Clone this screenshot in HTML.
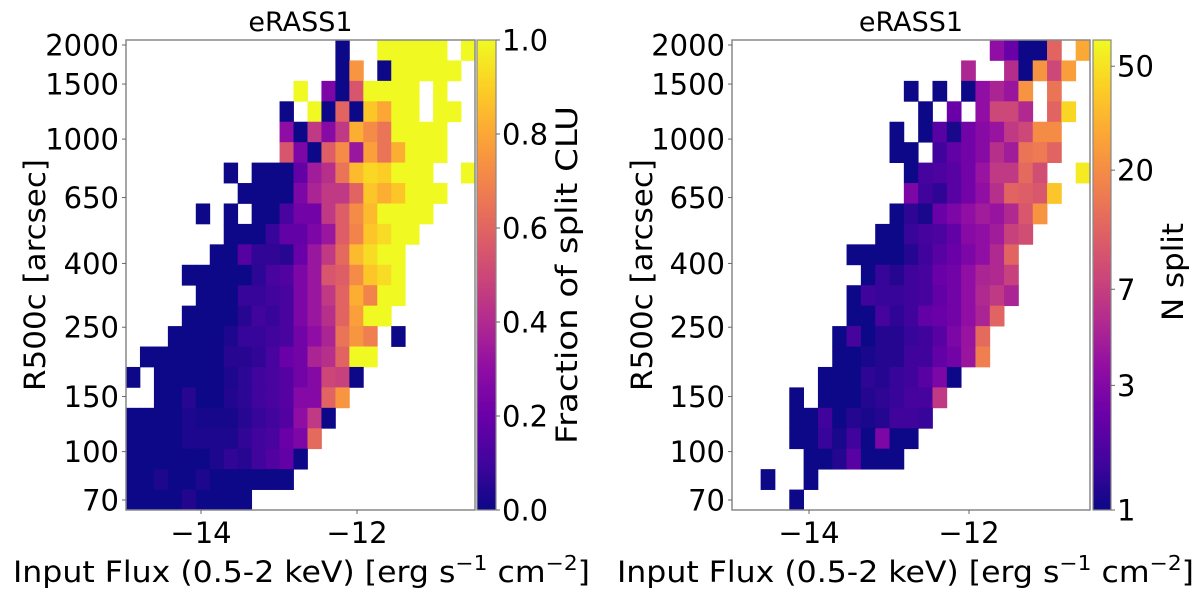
<!DOCTYPE html>
<html><head><meta charset="utf-8"><style>
html,body{margin:0;padding:0;background:#fff;}
svg{display:block;font-family:"DejaVu Sans","Liberation Sans",sans-serif;}
</style></head><body>
<svg id="fig" width="1200" height="594" viewBox="0 0 1200 594" xmlns="http://www.w3.org/2000/svg"></svg>
<script>
const n = null;
// Left panel: fraction of split CLU, rows top->bottom, [startCol, values]
const leftRows = [
[15,[0,n,n,1,1,1,1,1,n,1]],
[15,[0,.75,n,0,1,1,1,1,1]],
[12,[1,n,.25,0,.55,1,1,1,1,n,1]],
[11,[0,n,1,0,.6,0,.88,.8,1,1,n,1,1]],
[11,[.3,0,.45,.28,.45,.82,.72,.65,1,1,1,1]],
[11,[.55,.25,0,.58,.72,.33,.78,.65,.82,1,1,1]],
[7,[0,n,0,0,0,.18,.35,.42,.65,.85,.92,.9,1,1,1,n,n,1]],
[8,[0,0,0,0,.25,.38,.45,.45,.6,.88,.82,.88,1,1,1]],
[5,[0,n,0,n,0,0,.12,.22,.22,.45,.58,.72,.85,1,1,1,1]],
[7,[0,0,0,.08,.18,.18,.25,.33,.58,.7,.88,.93,1,1]],
[6,[0,0,.15,.07,.07,.05,.2,.33,.45,.62,.85,.93,1,1]],
[4,[0,0,0,0,0,.06,.12,.14,.25,.33,.55,.58,.72,.88,.93,1]],
[5,[0,0,0,.08,.08,.1,.12,.25,.33,.45,.6,.82,.7,1,1]],
[4,[0,0,0,0,.05,.1,.08,.12,.25,.33,.42,.6,.78,1,1]],
[3,[0,0,0,0,.03,.08,.08,.1,.12,.22,.3,.38,.65,.75,.68,n,0]],
[1,[0,0,0,0,0,0,.05,.05,.07,.12,.2,.22,.38,.42,.6,1,1]],
[0,[0,n,0,0,0,0,0,.03,.06,.1,.12,.15,.22,.27,.5,.48,0]],
[2,[0,0,.05,0,0,.04,.06,.1,.12,.15,.27,.27,.6,.75]],
[0,[0,0,0,0,.03,.02,.02,.02,.05,.08,.1,.14,.3,.45,0]],
[0,[0,0,0,0,.03,.03,.03,.03,.07,.1,.12,.2,.25,.62]],
[0,[0,0,0,0,0,0,.03,.07,.05,.1,.14,.18,0]],
[0,[0,0,.03,0,0,.03,0,0,0,0,0,0]],
[0,[0,0,0,0,.04,0,0,0,0]]
];
// Right panel: N split counts
const rightRows = [
[18,[3.5,2.3,1,1,12,n,28]],
[16,[5,n,n,5.5,1,22,8,25]],
[12,[1,n,1,n,1,3.5,4.8,3.9,22,n,15]],
[13,[1,n,2.3,n,3.5,8,8,5.2,n,12,45]],
[11,[1,n,1,1.9,1.1,2.5,3.2,3.8,6.5,8,20,20]],
[11,[1,1,n,1.5,2.1,2.5,3.2,5.7,4.3,15,16,12]],
[12,[1,1.6,1.7,1.9,2.5,3.8,6.5,6.5,13,8.6,n,n,55]],
[12,[2.8,1.5,1.3,1.9,2.5,3.5,5.7,12,11,10,38]],
[11,[1,1.3,1.1,2.3,2.8,3.5,4.3,3.8,5.2,10,22]],
[10,[1,1,1.4,1.6,1.7,2.1,3.2,3.5,4.3,7.3,8.6]],
[8,[1,1,1,1,1.2,1.5,1.9,2.3,2.8,3.5,5.2,12]],
[9,[1,1.4,1.2,1.5,1.6,2.3,2.5,3.5,4.8,5.2,7.3]],
[8,[1,1.5,1.4,1.4,1.5,1.6,2.1,2.5,3.5,5.2,6.5,4.8]],
[8,[1,1,1.6,1.3,1.5,2.1,2.3,2.5,3.5,4.8,12]],
[7,[1,1.6,1,1.2,1.2,1.4,1.5,1.9,2.8,3.8,13]],
[7,[1,1,1.1,1.2,1.2,1.5,1.5,2.1,2.5,3.9,17]],
[6,[1,1,1,1.3,1.2,1.4,1.5,1.9,2.8,1]],
[4,[1,n,1,1,1,1.2,1.3,1.4,1.6,1.6,6.5]],
[4,[1,1,1.5,1,1.2,1.1,1.2,1.5,1.5,1.4]],
[4,[1,1,1.4,1.1,1.5,1,2.8,1,1]],
[5,[1,1,1.2,1.9,1,1,1]],
[2,[1,n,n,1]],
[4,[1]]
];
const yTicks = [70,100,150,250,400,650,1000,1500,2000];
const xTicks = [-14,-12];
const leftCbTicks = [0,0.2,0.4,0.6,0.8,1.0];
const rightCbTicks = [1,3,7,20,50];
const rightVmax = 63;

const NS="http://www.w3.org/2000/svg";
const svg=document.getElementById('fig');
function el(tag,attrs,parent){const e=document.createElementNS(NS,tag);for(const k in attrs)e.setAttribute(k,attrs[k]);(parent||svg).appendChild(e);return e;}
const stops=['#0d0887','#41049d','#6a00a8','#8f0da4','#b12a90','#cc4778','#e16462','#f2844b','#fca636','#fcce25','#f0f921'];
function hex(h){return [1,3,5].map(i=>parseInt(h.substr(i,2),16));}
function plasma(t){t=Math.max(0,Math.min(1,t));const f=t*10,i=Math.min(9,Math.floor(f)),u=f-i;const a=hex(stops[i]),b=hex(stops[i+1]);return 'rgb('+a.map((v,k)=>Math.round(v+(b[k]-v)*u)).join(',')+')';}
const TOP=40,BOT=510,NR=23,NC=25;
const rowH=(BOT-TOP)/NR;
function yR(v){return 500-(Math.log10(v)-Math.log10(70))*(455/(Math.log10(2000)-Math.log10(70)));}

function panel(cfg){
  const g=el('g',{});
  
  
  const cw=(cfg.x1-cfg.x0)/NC;
  cfg.rows.forEach((r,ri)=>{
    r[1].forEach((v,j)=>{
      if(v===null)return;
      const c=r[0]+j;
      const rc=el('rect',{x:(cfg.x0+c*cw).toFixed(2),y:(TOP+ri*rowH).toFixed(2),width:(cw+0.4).toFixed(2),height:(rowH+0.4).toFixed(2),fill:plasma(cfg.norm(v))},g);
      
      
    });
  });
  const fr=el('rect',{x:cfg.x0,y:TOP,width:cfg.x1-cfg.x0,height:BOT-TOP,fill:'none',stroke:'#888','stroke-width':1.5},g);
  
  
  yTicks.forEach(v=>{
    const y=yR(v);
    el('line',{x1:cfg.x0-4,x2:cfg.x0,y1:y,y2:y,stroke:'#666','stroke-width':1},g);
    const t=el('text',{x:cfg.x0-7,y:y+10.5,'font-size':29,'text-anchor':'end',fill:'#000'},g);
    t.textContent=v;
    
    
  });
  xTicks.forEach(v=>{
    const x=cfg.xA+(v-(-14))*cfg.xS;
    el('line',{x1:x,x2:x,y1:BOT,y2:BOT+4,stroke:'#666','stroke-width':1},g);
    const t=el('text',{x:x,y:543,'font-size':29,'text-anchor':'middle',fill:'#000'},g);
    t.textContent='\u2212'+Math.abs(v);
    
    
  });
  const ti=el('text',{x:(cfg.x0+cfg.x1)/2,y:31,'font-size':27,'text-anchor':'middle'},g);
  ti.textContent='eRASS1';
  
  
  const xl=el('text',{x:cfg.xlx-288,y:582,'font-size':29,textLength:577,lengthAdjust:'spacingAndGlyphs'},g);
  xl.innerHTML='Input Flux (0.5-2 keV) [erg s<tspan dy="-12" font-size="20">\u22121</tspan><tspan dy="12"> cm</tspan><tspan dy="-12" font-size="20">\u22122</tspan><tspan dy="12">]</tspan>';
  
  
  const yl=el('text',{x:0,y:0,'font-size':29,'text-anchor':'middle',textLength:232,lengthAdjust:'spacingAndGlyphs',transform:'translate('+cfg.ylx+',275) rotate(-90)'},g);
  yl.textContent='R500c [arcsec]';
  
  
  const cb=el('g',{},g);
  
  
  for(let i=0;i<235;i++){
    const y=BOT-(i+1)*2;
    el('rect',{x:cfg.cb0,y:y,width:cfg.cb1-cfg.cb0,height:2.4,fill:plasma(i/234)},cb);
  }
  el('rect',{x:cfg.cb0,y:TOP,width:cfg.cb1-cfg.cb0,height:BOT-TOP,fill:'none',stroke:'#888','stroke-width':1.2},cb);
  cfg.cbTicks.forEach(v=>{
    const y=BOT-cfg.norm(v)*(BOT-TOP);
    el('line',{x1:cfg.cb1,x2:cfg.cb1+4,y1:y,y2:y,stroke:'#666'},cb);
    const t=el('text',{x:cfg.cb1+6,y:y+10.5,'font-size':29},cb);
    t.textContent=cfg.fmt(v);
    
    
  });
  const cl=el('text',{x:0,y:0,'font-size':29,'text-anchor':'middle',textLength:cfg.cbLen,lengthAdjust:'spacingAndGlyphs',transform:'translate('+cfg.cblx+','+cfg.cbly+') rotate(-90)'},cb);
  cl.textContent=cfg.cbLabel;
  
  
}
panel({name:'left-panel',rows:leftRows,x0:126,x1:475,xA:201,xS:78,norm:v=>v,cb0:477,cb1:496,cbTicks:leftCbTicks,fmt:v=>v.toFixed(1),cbLabel:'Fraction of split CLU',cblx:577,cbly:275,cbLen:338,ylx:45,xlx:301});
panel({name:'right-panel',rows:rightRows,x0:732,x1:1090,xA:809,xS:80,norm:v=>Math.log(v)/Math.log(rightVmax),cb0:1093,cb1:1111,cbTicks:rightCbTicks,fmt:v=>String(v),cbLabel:'N split',cblx:1183,cbly:272,cbLen:98,ylx:652,xlx:905});
</script>
</body></html>
